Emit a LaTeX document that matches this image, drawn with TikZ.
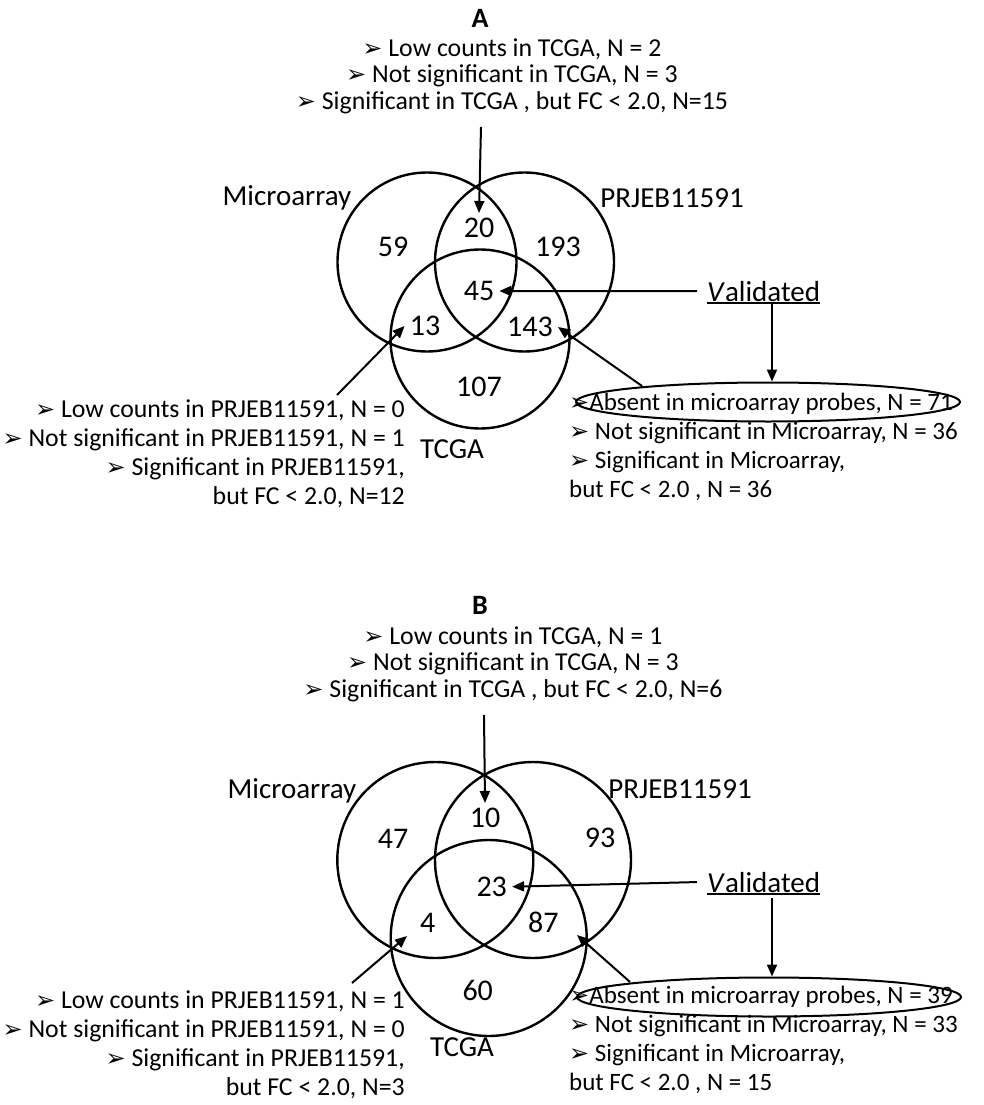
\documentclass[tikz,border=0pt]{standalone}
\usepackage{fontspec}
\setmainfont{Carlito}
\newfontfamily\symfont{DejaVu Sans}
\usetikzlibrary{arrows.meta,shapes.geometric}
\newcommand{\bul}{{\symfont\fontsize{24}{24}\selectfont ➢}}

\begin{document}
\begin{tikzpicture}[x=1pt,y=-1pt,
  ring/.style={circle,draw,line width=2.4pt,minimum size=#1,inner sep=0pt},
  count/.style={font=\fontsize{30}{32}\selectfont,inner sep=5pt},
  setname/.style={font=\fontsize{29}{31}\selectfont,inner sep=0pt},
  note/.style={font=\fontsize{25.8}{26.5}\selectfont,inner sep=0pt},
  sidenote/.style={font=\fontsize{25.8}{29}\selectfont,inner sep=0pt},
  rightnote/.style={font=\fontsize{25}{29}\selectfont,inner sep=0pt},
  valid/.style={font=\fontsize{29}{31}\selectfont,inner xsep=0pt,inner ysep=2pt,anchor=base west},
  oval/.style={ellipse,draw,line width=2pt,minimum width=384pt,minimum height=39pt,inner sep=0pt},
  pointer/.style={-{Triangle[length=12pt,width=10pt]},line width=2pt},
  panel/.style={font=\fontsize{28}{30}\selectfont\bfseries}]
\useasboundingbox (0,0) rectangle (984,1105);

% panel A
\node[panel] (titleA) at (480,18) {A};
\node[note,align=center] (whyA) at (512,76) {\bul\ Low counts in TCGA, N = 2\\\bul\ Not significant in TCGA, N = 3\\\bul\ Significant in TCGA , but FC < 2.0, N=15};
\node[ring=179pt] (microA) at (427,262) {};
\node[ring=179pt] (prjA) at (524.5,262) {};
\node[ring=179pt] (tcgaA) at (480,339) {};
\node[setname] (labMicroA) at (287,198) {Microarray};
\node[setname] (labPrjA) at (672,198) {PRJEB11591};
\node[setname] (labTcgaA) at (452,449) {TCGA};
\node[count] (n59) at (393,247) {59};
\node[count] (n20) at (479,228) {20};
\node[count] (n193) at (558,247) {193};
\node[count] (n45) at (479,291) {45};
\node[count] (n13) at (425,326) {13};
\node[count] (n143) at (530,327) {143};
\node[count] (n107) at (479,387) {107};
\node[valid] (validA) at (707,301) {\textit{V}alidated};
\draw[line width=2pt] (validA.south west) -- (validA.south east);
\node[oval] (ovalA) at (768,402) {};
\node[rightnote,align=left,anchor=west] (rightA) at (569,447) {\bul Absent in microarray probes, N = 71\\\bul\ Not significant in Microarray, N = 36\\\bul\ Significant in Microarray,\\but FC < 2.0 , N = 36};
\node[sidenote,align=right,anchor=east] (leftA) at (405,453.5) {\bul\ Low counts in PRJEB11591, N = 0\\\bul\ Not significant in PRJEB11591, N = 1\\\bul\ Significant in PRJEB11591,\\but FC < 2.0, N=12};
\coordinate (dropA) at (481,127);
\coordinate (downA) at (772,304);
\coordinate (fromLeftA) at (337,395);
\coordinate (fromRightA) at (642,386);
\draw[pointer] (dropA) -- (n20.north);
\draw[pointer] ([xshift=-10pt]validA.west) -- (n45.east);
\draw[pointer] (downA) -- (downA |- ovalA.north);
\draw[pointer] (fromLeftA) -- (n13.west);
\draw[pointer] (fromRightA) -- (n143.east);

% panel B
\node[panel] (titleB) at (480,605) {B};
\node[note,align=center] (whyB) at (513,664) {\bul\ Low counts in TCGA, N = 1\\\bul\ Not significant in TCGA, N = 3\\\bul\ Significant in TCGA , but FC < 2.0, N=6};
\node[ring=196pt] (microB) at (435.3,860) {};
\node[ring=196pt] (prjB) at (533,860) {};
\node[ring=196pt] (tcgaB) at (488.7,938) {};
\node[setname] (labMicroB) at (292,791) {Microarray};
\node[setname] (labPrjB) at (680,789) {PRJEB11591};
\node[setname] (labTcgaB) at (462,1047) {TCGA};
\node[count] (n47) at (393,839) {47};
\node[count] (n10) at (485,818) {10};
\node[count] (n93) at (600,838) {93};
\node[count] (n23) at (491.7,886.7) {23};
\node[count] (n4) at (427.7,923) {4};
\node[count] (n87) at (543.3,922.7) {87};
\node[count] (n60) at (477.7,990.7) {60};
\node[valid] (validB) at (707,892) {\textit{V}alidated};
\draw[line width=2pt] (validB.south west) -- (validB.south east);
\node[oval] (ovalB) at (769,997) {};
\node[rightnote,align=left,anchor=west] (rightB) at (569,1040) {\bul Absent in microarray probes, N = 39\\\bul\ Not significant in Microarray, N = 33\\\bul\ Significant in Microarray,\\but FC < 2.0 , N = 15};
\node[sidenote,align=right,anchor=east] (leftB) at (405,1045) {\bul\ Low counts in PRJEB11591, N = 1\\\bul\ Not significant in PRJEB11591, N = 0\\\bul\ Significant in PRJEB11591,\\but FC < 2.0, N=3};
\coordinate (dropB) at (484,715);
\coordinate (downB) at (772,898);
\coordinate (fromLeftB) at (352,983);
\coordinate (tipFour) at (407,936);
\coordinate (fromRightB) at (630,982);
\coordinate (tipEighty) at (577,935);
\draw[pointer] (dropB) -- (n10.north);
\draw[pointer] ([xshift=-10pt]validB.west) -- (n23.east);
\draw[pointer] (downB) -- (downB |- ovalB.north);
\draw[pointer] (fromLeftB) -- (tipFour);
\draw[pointer] (fromRightB) -- (tipEighty);
\end{tikzpicture}
\end{document}
